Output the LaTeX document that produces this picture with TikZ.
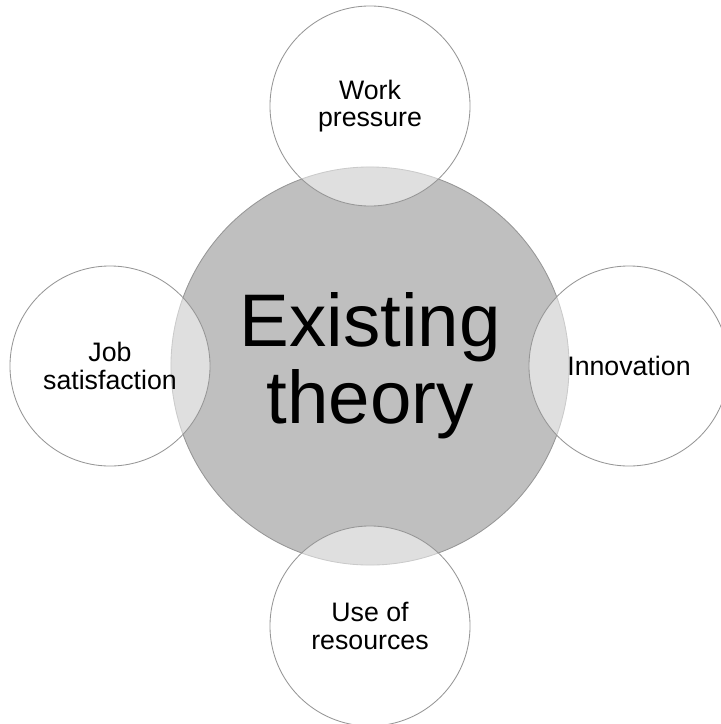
\documentclass[tikz,border=0pt]{standalone}
\usepackage{fontspec}
\setmainfont{Liberation Sans}
\definecolor{hubgray}{RGB}{191,191,191}
\definecolor{rimgray}{RGB}{150,150,150}

\begin{document}
\begin{tikzpicture}[x=0.025cm, y=-0.025cm,
    hub/.style={circle, draw=rimgray, line width=0.6pt, fill=hubgray, minimum size=9.95cm, align=center, font=\fontsize{53}{55}\selectfont},
    petal/.style={circle, draw=rimgray, line width=0.6pt, fill=white, fill opacity=0.5, text opacity=1, minimum size=5cm, align=center, font=\fontsize{19}{19.5}\selectfont}]
    \useasboundingbox (0,0) rectangle (721,724);

    % Draw nodes
    \node[hub] (theory) at (370,366) {Existing\\theory};
    \node[petal] (pressure) at (370,106) {Work\\pressure};
    \node[petal] (satisfaction) at (110,366) {Job\\satisfaction};
    \node[petal] (innovation) at (629,366) {Innovation};
    \node[petal] (resources) at (370,626) {Use of\\resources};
\end{tikzpicture}
\end{document}
